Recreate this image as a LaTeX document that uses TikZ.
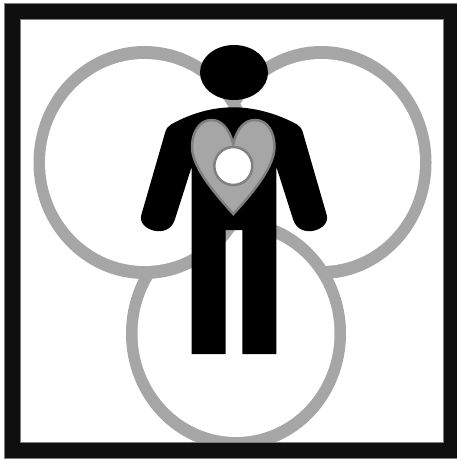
\documentclass[tikz,border=0pt]{standalone}
\definecolor{ringgray}{HTML}{A6A6A6}
\definecolor{edgegray}{HTML}{808080}
\definecolor{framedark}{HTML}{0F0F0F}
\tikzset{
  ringout/.style={fill=ringgray},
  ringin/.style={fill=white},
  figure/.style={fill=black},
  organ/.style={draw=edgegray,line width=2.5pt},
}
\begin{document}
\begin{tikzpicture}[x=1pt,y=-1pt]
\useasboundingbox (0,0) rectangle (457,460);
\fill[white] (0,0) rectangle (457,460);
% rings: right, then bottom, then left, each hiding what lies inside it
\fill[ringout] (321.5,162.5) ellipse[x radius=110,y radius=116.5];
\fill[ringin] (321.5,162.5) ellipse[x radius=98.5,y radius=103.5];
\fill[ringout] (236,333.5) ellipse[x radius=110,y radius=116.5];
\fill[ringin] (236,333.5) ellipse[x radius=98.5,y radius=103.5];
\fill[ringout] (144.5,162.5) ellipse[x radius=111,y radius=116.5];
\fill[ringin] (144.5,162.5) ellipse[x radius=99.5,y radius=103.5];
% frame
\fill[framedark,even odd rule,draw=edgegray,line width=0.5pt] (4,3.5) rectangle (460,458) (20,19.5) rectangle (443.5,442);
% head
\fill[figure] (234,72.5) ellipse[x radius=34,y radius=27.5];
% body
\fill[figure] (233.3,107.3)
  .. controls (258,107.3) and (282,116) .. (297,124.5)
  .. controls (300,126) and (302,129) .. (303,133)
  -- (326.7,215)
  .. controls (331,230) and (300,240) .. (293.3,220)
  -- (276.3,166.7) -- (276.3,354) -- (242.3,354) -- (242.3,230)
  -- (225.7,230) -- (225.7,354) -- (191.7,354) -- (191.7,166.7)
  -- (174.7,220)
  .. controls (168,240) and (137,230) .. (141.3,215)
  -- (165,133)
  .. controls (166,129) and (168,126) .. (171,124.5)
  .. controls (186,116) and (208,107.3) .. (233.3,107.3) -- cycle;
% heart
\draw[organ,fill=ringgray] (233.3,144)
  .. controls (237,128) and (245,120) .. (255,120)
  .. controls (268,120) and (274.5,133) .. (274.5,147)
  .. controls (274.5,168) and (249,197) .. (233.3,214)
  .. controls (218,197) and (192,168) .. (192,147)
  .. controls (192,133) and (199,120) .. (211.5,120)
  .. controls (221,120) and (229,128) .. (233.3,144) -- cycle;
\draw[organ,fill=white] (233.3,166) circle[radius=19];
\end{tikzpicture}
\end{document}
